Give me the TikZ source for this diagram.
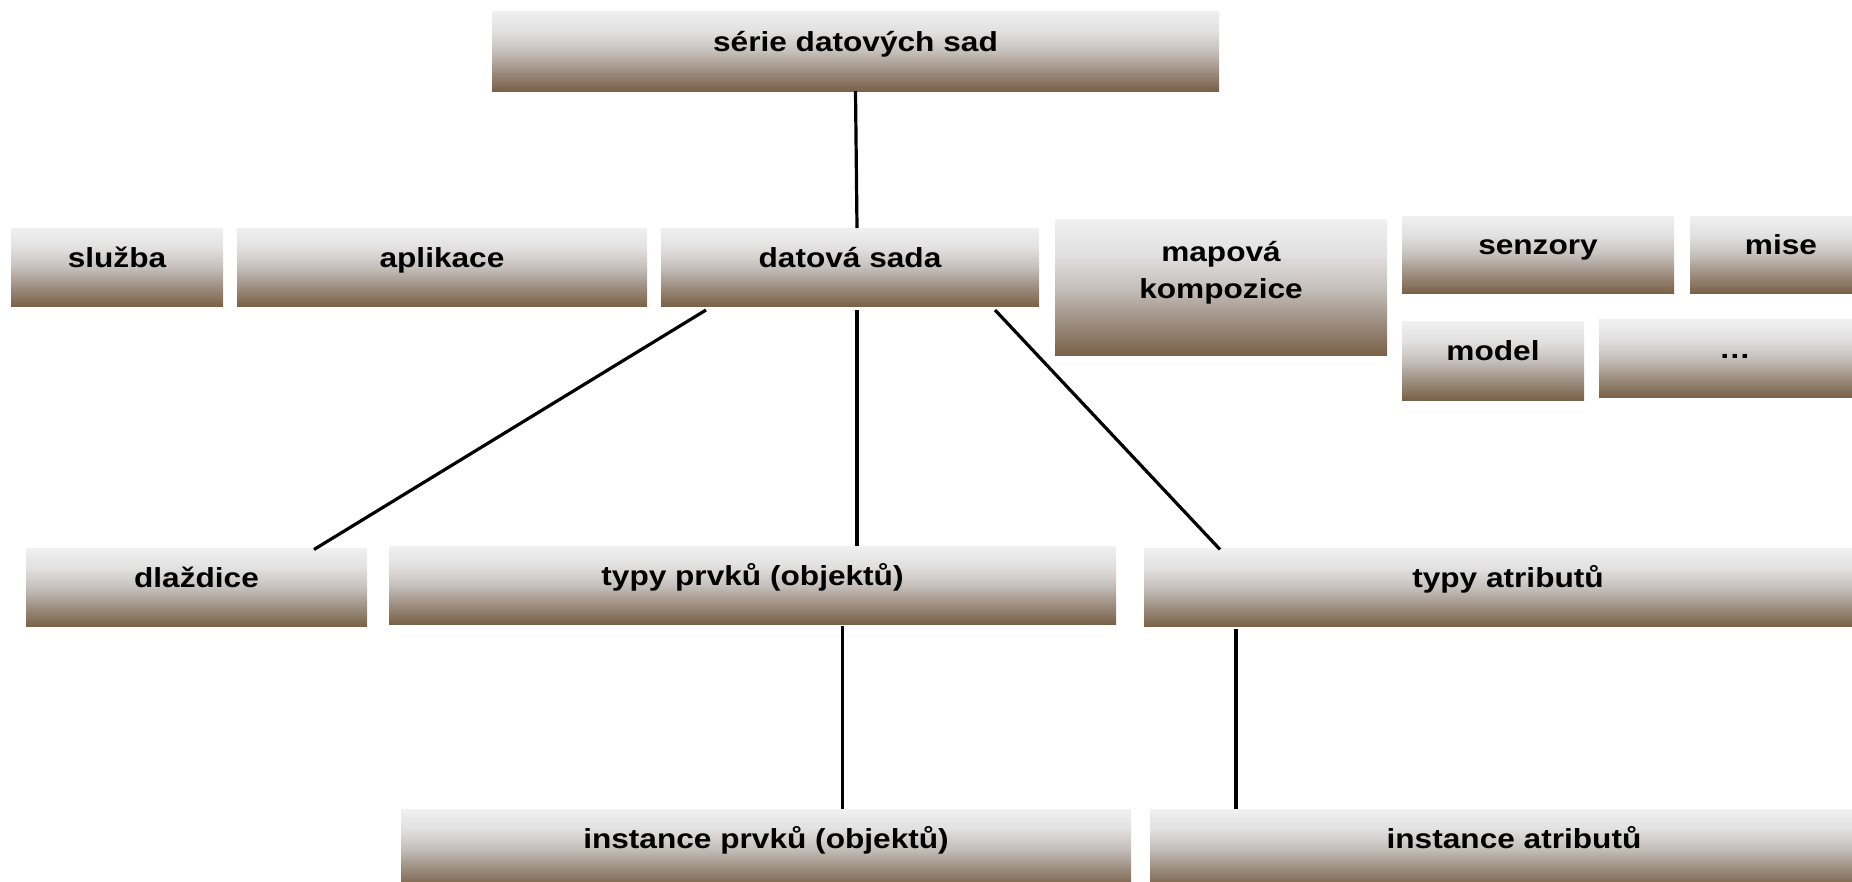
\documentclass[tikz,border=0pt]{standalone}
\usepackage{fontspec}
\setmainfont{Liberation Sans}[FakeStretch=1.15]
\usetikzlibrary{calc}

\definecolor{boxtop}{RGB}{240,240,240}
\definecolor{boxqtop}{RGB}{226,225,225}
\definecolor{boxmid}{RGB}{198,192,188}
\definecolor{boxqbot}{RGB}{158,143,129}
\definecolor{boxbot}{RGB}{122,97,72}
\pgfdeclareverticalshading{boxshade}{100bp}{color(0bp)=(boxbot); color(25bp)=(boxbot);
  color(37.5bp)=(boxqbot); color(50bp)=(boxmid); color(62.5bp)=(boxqtop);
  color(75bp)=(boxtop); color(100bp)=(boxtop)}

\begin{document}
\begin{tikzpicture}[x=1pt,y=-1pt]
    \tikzset{
      box/.style={rectangle, shading=boxshade, inner sep=0pt, outer sep=0pt,
        minimum height=78pt, text height=20pt, text depth=20pt,
        font=\bfseries\fontsize{27.5pt}{37pt}\selectfont},
      edge/.style={line width=3.2pt, black}
    }
    \useasboundingbox (0,0) rectangle (1852,881);
    \clip (0,0) rectangle (1852,881);

    % boxes
    \node[box, minimum width=727pt, minimum height=80pt] (serie) at (855.5,51) {série datových sad};
    \node[box, minimum width=212pt] (sluzba) at (117,267) {služba};
    \node[box, minimum width=410pt] (aplikace) at (442,267) {aplikace};
    \node[box, minimum width=378pt] (ds) at (850,267) {datová sada};
    \node[box, minimum width=332pt, minimum height=136pt, text height=60pt, text depth=38pt]
      (mapova) at (1221,287) {\begin{tabular}[b]{@{}c@{}}mapová\\kompozice\end{tabular}};
    \node[box, minimum width=272pt, minimum height=77pt] (senzory) at (1538,254.5) {senzory};
    \node[box, minimum width=182pt, minimum height=77pt] (mise) at (1781,254.5) {mise};
    \node[box, minimum width=182pt, minimum height=79pt] (model) at (1493,360.5) {model};
    \node[box, minimum width=272pt] (dalsi) at (1735,358) {…};
    \node[box, minimum width=341pt] (dlazdice) at (196.5,587.5) {dlaždice};
    \node[box, minimum width=727pt] (typyprvku) at (752.5,585) {typy prvků (objektů)};
    \node[box, minimum width=728pt] (typyatr) at (1508,587.5) {typy atributů};
    \node[box, minimum width=730pt] (instprvku) at (766,848) {instance prvků (objektů)};
    \node[box, minimum width=728pt] (instatr) at (1514,848) {instance atributů};

    % edges
    \coordinate (dsl) at ($(ds.south)+(-144,4)$);
    \coordinate (dsm) at ($(ds.south)+(7,4)$);
    \coordinate (dsr) at ($(ds.south)+(145,4)$);
    \coordinate (tpb) at ($(typyprvku.south)+(90,2)$);
    \coordinate (tab) at ($(typyatr.south)+(-272,2)$);
    \draw[edge] (serie.south) -- ($(ds.north)+(7,0)$);
    \draw[edge] (dsl) -- ($(dlazdice.north)+(117.5,1)$);
    \draw[edge] (dsm) -- (dsm |- typyprvku.north);
    \draw[edge] (dsr) -- ($(typyatr.north)+(-288,1)$);
    \draw[edge] (tpb) -- (tpb |- instprvku.north);
    \draw[edge] (tab) -- (tab |- instatr.north);
\end{tikzpicture}
\end{document}
